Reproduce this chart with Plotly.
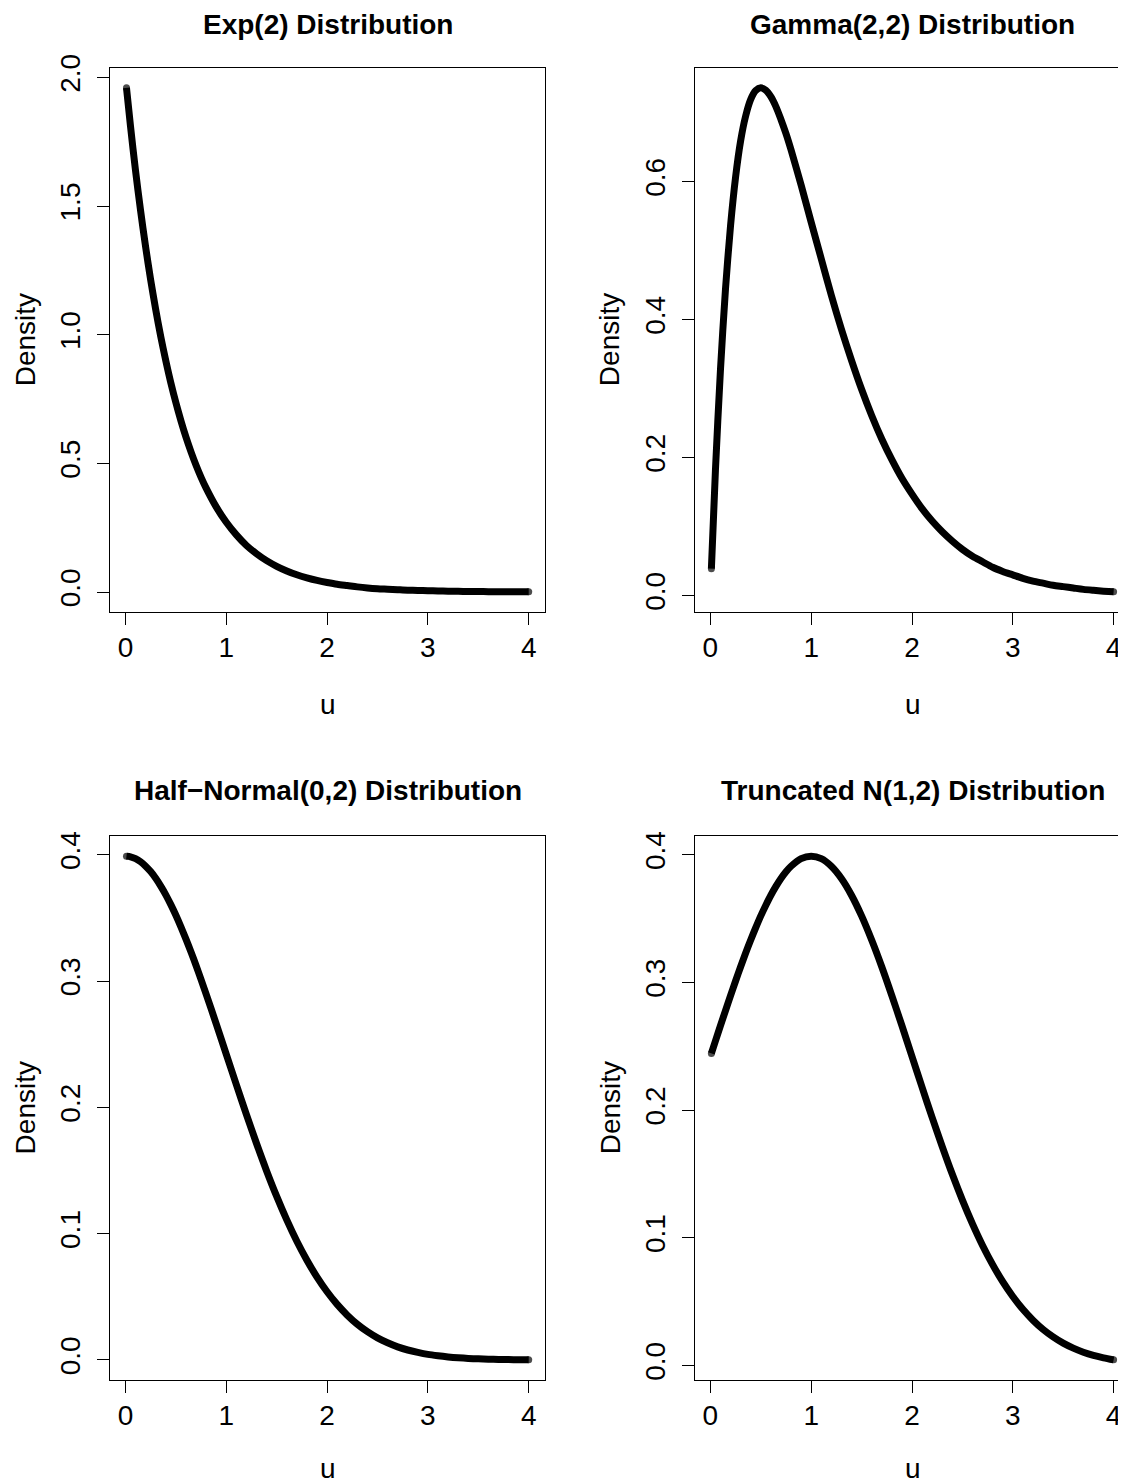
import plotly.graph_objects as go

# ---------------- data ----------------
u = [0.01, 0.05, 0.1, 0.15, 0.2, 0.25, 0.3, 0.35, 0.4, 0.45, 0.5, 0.55, 0.6, 0.65, 0.7, 0.75, 0.8, 0.9, 1.0,
     1.1, 1.2, 1.3, 1.4, 1.5, 1.6, 1.7, 1.8, 1.9, 2.0,
     2.1, 2.2, 2.3, 2.4, 2.5, 2.6, 2.7, 2.8, 2.9, 3.0,
     3.1, 3.2, 3.3, 3.4, 3.5, 3.6, 3.7, 3.8, 3.9, 4.0]

exp_density = [1.960, 1.810, 1.637, 1.482, 1.341, 1.213, 1.098, 0.993, 0.899, 0.813, 0.736, 0.666, 0.602,
               0.545, 0.493, 0.446, 0.404, 0.331, 0.271,
               0.222, 0.181, 0.149, 0.122, 0.100, 0.082, 0.067, 0.055, 0.045, 0.037,
               0.030, 0.025, 0.020, 0.016, 0.013, 0.011, 0.009, 0.007, 0.006, 0.005,
               0.004, 0.0033, 0.0027, 0.0022, 0.0018, 0.0015, 0.0012, 0.0010, 0.0008, 0.0007]

gamma_density = [0.039, 0.181, 0.327, 0.4445, 0.536, 0.6065, 0.659, 0.695, 0.719, 0.7318, 0.7358, 0.7323, 0.723,
                 0.7086, 0.690, 0.6694, 0.646, 0.595, 0.541,
                 0.488, 0.435, 0.386, 0.341, 0.299, 0.261, 0.227, 0.197, 0.170, 0.147,
                 0.126, 0.108, 0.0925, 0.079, 0.067, 0.057, 0.049, 0.041, 0.035, 0.030,
                 0.025, 0.021, 0.018, 0.015, 0.013, 0.011, 0.009, 0.0076, 0.0064, 0.0054]

halfnormal_density = [0.3989, 0.3984, 0.3970, 0.3945, 0.3910, 0.3867, 0.3814, 0.3752, 0.3683, 0.3605, 0.3521,
                      0.3429, 0.3332, 0.3230, 0.3123, 0.3011, 0.2897, 0.2661, 0.2420,
                      0.2179, 0.1942, 0.1714, 0.1497, 0.1295, 0.1109, 0.0940, 0.0790, 0.0656, 0.0540,
                      0.0440, 0.0355, 0.0283, 0.0224, 0.0175, 0.0136, 0.0104, 0.0079, 0.0060, 0.0044,
                      0.0033, 0.0024, 0.0017, 0.0012, 0.0009, 0.0006, 0.0004, 0.0003, 0.0002, 0.0001]

truncnormal_density = [0.2444, 0.2541, 0.2661, 0.2780, 0.2897, 0.3011, 0.3123, 0.3230, 0.3332, 0.3429, 0.3521,
                       0.3605, 0.3683, 0.3752, 0.3814, 0.3867, 0.3910, 0.3970, 0.3989,
                       0.3970, 0.3910, 0.3814, 0.3683, 0.3521, 0.3332, 0.3123, 0.2897, 0.2661, 0.2420,
                       0.2179, 0.1942, 0.1714, 0.1497, 0.1295, 0.1109, 0.0940, 0.0790, 0.0656, 0.0540,
                       0.0440, 0.0355, 0.0283, 0.0224, 0.0175, 0.0136, 0.0104, 0.0079, 0.0060, 0.0044]

titles = ["Exp(2) Distribution", "Gamma(2,2) Distribution",
          "Half\u2212Normal(0,2) Distribution", "Truncated N(1,2) Distribution"]

x_ticks = [0, 1, 2, 3, 4]
exp_yticks = [0.0, 0.5, 1.0, 1.5, 2.0]
gamma_yticks = [0.0, 0.2, 0.4, 0.6]
normal_yticks = [0.0, 0.1, 0.2, 0.3, 0.4]

x_title = "u"
y_title = "Density"

# ---------------- layout geometry (pixels) ----------------
W, H = 1126, 1479
OFF = 8           # page body margin; positions below are page pixels
FONT = "Liberation Sans, Arial, Helvetica, sans-serif"
FS = 28
LW = 7

col_px = [(110.4, 544.8), (695.3, 1129.7)]
row_px = [(67.7, 612.0), (836.0, 1380.0)]
title_gap = [43, 46]     # title centre above box top, per row
xlab_gap = [92, 88]      # x label centre below box bottom, per row


def fx(px):
    return (px - OFF) / W


def fy(py):
    return 1 - (py - OFF) / H


panels = [
    (exp_density, exp_yticks, 0, 0),
    (gamma_density, gamma_yticks, 0, 1),
    (halfnormal_density, normal_yticks, 1, 0),
    (truncnormal_density, normal_yticks, 1, 1),
]

fig = go.Figure()
annotations = []

xmin, xmax = min(u), max(u)
xpad = 0.04 * (xmax - xmin)
xrange = [xmin - xpad, xmax + xpad]

end_marker_sizes = [LW if j in (0, len(u) - 1) else 0 for j in range(len(u))]

for i, (dens, yt, r, c) in enumerate(panels):
    k = "" if i == 0 else str(i + 1)
    x0p, x1p = col_px[c]
    y0p, y1p = row_px[r]
    ymin, ymax = min(dens), max(dens)
    ypad = 0.04 * (ymax - ymin)
    yrange = [ymin - ypad, ymax + ypad]

    fig.add_trace(go.Scatter(
        x=u, y=dens, mode="lines+markers",
        line=dict(color="black", width=LW, shape="spline", smoothing=0.8),
        marker=dict(color="black", size=end_marker_sizes, line=dict(width=0)),
        xaxis="x" + k, yaxis="y" + k, showlegend=False, hoverinfo="skip",
        cliponaxis=False))

    axis_common = dict(showgrid=False, zeroline=False, showline=True, automargin=False,
                       linecolor="black", linewidth=1, ticks="outside", mirror=True,
                       ticklen=12, tickwidth=1, tickcolor="black",
                       tickfont=dict(family=FONT, size=FS, color="black"))
    fig.update_layout(**{
        "xaxis" + k: dict(axis_common, domain=[fx(x0p), fx(x1p)], range=xrange,
                          tickvals=x_ticks, ticktext=[str(t) for t in x_ticks],
                          anchor="y" + k, ticklabelstandoff=-2),
        "yaxis" + k: dict(axis_common, domain=[fy(y1p), fy(y0p)], range=yrange,
                          tickvals=yt, tickformat=".1f", tickangle=-90,
                          anchor="x" + k, ticklabelstandoff=6),
    })

    cx = (x0p + x1p) / 2
    annotations.append(dict(text="<b>" + titles[i] + "</b>", xref="paper", yref="paper",
                            x=fx(cx), y=fy(y0p - title_gap[r]), xanchor="center", yanchor="middle",
                            showarrow=False, font=dict(family=FONT, size=FS, color="black")))
    annotations.append(dict(text=x_title, xref="paper", yref="paper",
                            x=fx(cx), y=fy(y1p + xlab_gap[r]), xanchor="center", yanchor="middle",
                            showarrow=False, font=dict(family=FONT, size=FS, color="black")))
    annotations.append(dict(text=y_title, xref="paper", yref="paper", textangle=-90,
                            x=fx(x0p - 85), y=fy((y0p + y1p) / 2),
                            xanchor="center", yanchor="middle",
                            showarrow=False, font=dict(family=FONT, size=FS, color="black")))

fig.update_layout(template="none", width=W, height=H,
                  margin=dict(l=0, r=0, t=0, b=0, autoexpand=False),
                  paper_bgcolor="white", plot_bgcolor="white",
                  annotations=annotations, showlegend=False)

fig.write_html("out.html")
